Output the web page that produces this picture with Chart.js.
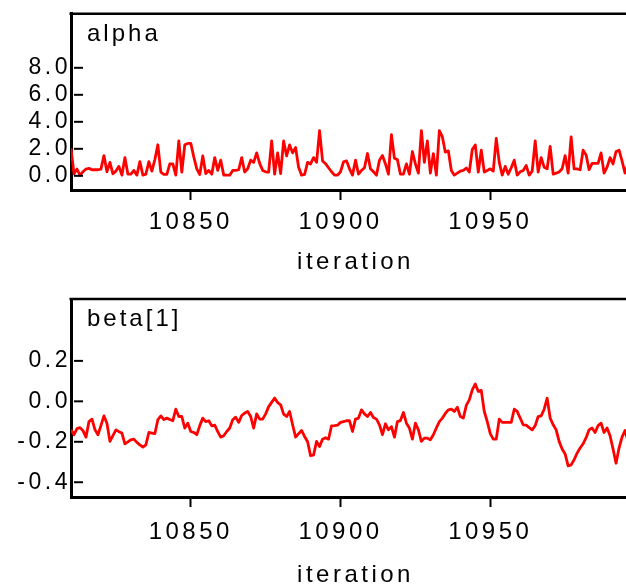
<!DOCTYPE html>
<html>
<head>
<meta charset="utf-8">
<script src="https://cdn.jsdelivr.net/npm/chart.js@4.4.0/dist/chart.umd.min.js"></script>
<style>
  body { margin: 0; background: #fff; overflow: hidden; width: 626px; height: 585px; position: relative; }
  canvas { position: absolute; left: 0; }
  #alphaChart { top: 0; }
  #betaChart { top: 285px; }
</style>
</head>
<body>
<canvas id="alphaChart" width="640" height="280"></canvas>
<canvas id="betaChart" width="640" height="305"></canvas>
<script>
// iteration axis
const firstIteration = 10810;
const lastIteration = 11000;
const xTicks = [10850, 10900, 10950];

// tick labels on the value axes
const alphaTicks = [0, 2, 4, 6, 8];
const betaTicks = [-0.4, -0.2, 0, 0.2];

// sampled values, one per iteration starting at firstIteration
const alphaValues = [
  2.05, 0.15, 0.5, 0.05, 0.3, 0.5, 0.55, 0.45, 0.45, 0.45,
  0.5, 1.5, 0.3, 1.0, 0.15, 0.35, 0.7, 0.05, 1.35, 0.12,
  0.12, 0.4, 0.05, 1.05, 0.05, 0.12, 1.05, 0.35, 1.2, 2.3,
  0.28, 0.1, 0.1, 0.88, 0.88, 0.05, 2.58, 0.28, 2.3, 2.4,
  2.4, 1.4, 0.52, 0.1, 1.47, 0.17, 0.4, 0.12, 1.35, 0.4,
  1.16, 0.05, 0.05, 0.05, 0.4, 0.4, 0.45, 1.35, 0.28, 0.52,
  1.16, 1.0, 1.7, 0.92, 0.4, 0.3, 0.28, 2.58, 0.12, 1.7,
  0.17, 2.58, 1.47, 2.29, 1.7, 2.1, 0.64, 0.05, 0.1, 1.0,
  0.88, 1.35, 1.0, 3.35, 1.1, 0.9, 0.6, 0.3, 0.05, 0.05,
  0.3, 1.04, 1.11, 0.52, 0.05, 1.16, 0.12, 0.4, 0.6, 1.65,
  0.52, 0.3, 0.05, 1.16, 1.5, 0.88, 0.12, 3.05, 1.3, 1.2,
  0.12, 0.12, 0.88, 0.12, 1.8, 0.88, 0.2, 3.35, 1.0, 2.58,
  0.2, 1.65, 0.05, 3.35, 2.9, 1.75, 1.85, 0.4, 0.05, 0.2,
  0.35, 0.4, 0.58, 0.28, 1.95, 2.29, 0.28, 1.9, 0.28, 0.4,
  0.52, 0.35, 2.77, 1.0, 0.05, 0.7, 0.12, 0.6, 1.16, 0.05,
  0.3, 0.4, 0.76, 0.05, 0.35, 2.58, 0.28, 1.35, 0.64, 0.52,
  2.18, 0.12, 0.2, 0.28, 0.52, 1.5, 0.2, 2.88, 0.52, 0.52,
  0.45, 1.9, 1.55, 0.45, 0.92, 0.92, 0.92, 1.7, 0.2, 0.64,
  1.35, 0.88, 1.8, 1.9, 1.11, 0.2, 0.9
];

const betaValues = [
  -0.14, -0.165, -0.135, -0.13, -0.145, -0.177, -0.10, -0.088, -0.14, -0.165,
  -0.12, -0.072, -0.108, -0.198, -0.17, -0.141, -0.15, -0.157, -0.21, -0.2,
  -0.19, -0.187, -0.203, -0.215, -0.226, -0.215, -0.154, -0.157, -0.16, -0.091,
  -0.072, -0.09, -0.083, -0.09, -0.096, -0.039, -0.075, -0.075, -0.132, -0.108,
  -0.149, -0.154, -0.165, -0.12, -0.083, -0.1, -0.096, -0.121, -0.118, -0.15,
  -0.177, -0.17, -0.149, -0.132, -0.091, -0.078, -0.104, -0.07, -0.058, -0.05,
  -0.075, -0.132, -0.062, -0.088, -0.088, -0.062, -0.026, -0.005, 0.016, -0.006,
  -0.017, -0.063, -0.075, -0.05, -0.116, -0.177, -0.16, -0.144, -0.174, -0.2,
  -0.269, -0.265, -0.198, -0.223, -0.187, -0.18, -0.187, -0.121, -0.12, -0.118,
  -0.104, -0.10, -0.096, -0.096, -0.149, -0.088, -0.083, -0.042, -0.062, -0.075,
  -0.055, -0.08, -0.088, -0.116, -0.165, -0.111, -0.141, -0.125, -0.177, -0.10,
  -0.095, -0.055, -0.108, -0.132, -0.187, -0.108, -0.141, -0.198, -0.182, -0.182,
  -0.19, -0.165, -0.132, -0.10, -0.083, -0.06, -0.042, -0.039, -0.05, -0.029,
  -0.075, -0.083, -0.02, 0.007, 0.057, 0.086, 0.049, 0.054, -0.05, -0.1,
  -0.16, -0.187, -0.187, -0.088, -0.104, -0.104, -0.104, -0.104, -0.039, -0.05,
  -0.083, -0.116, -0.118, -0.13, -0.141, -0.12, -0.075, -0.072, -0.039, 0.016,
  -0.083, -0.116, -0.141, -0.198, -0.236, -0.26, -0.319, -0.314, -0.289, -0.256,
  -0.231, -0.21, -0.18, -0.141, -0.132, -0.154, -0.12, -0.108, -0.154, -0.132,
  -0.17, -0.236, -0.306, -0.231, -0.177, -0.144, -0.198
];

Chart.defaults.font.family = '"Liberation Sans", Arial, sans-serif';
Chart.defaults.color = '#000';

// the reference text is drawn wide, so space the letters out
const letterSpacing = {
  id: 'letterSpacing',
  beforeDraw(chart) {
    chart.ctx.letterSpacing = '3.5px';
  }
};

// top edge of the box, inward ticks on the value axis and the node name
const panelFrame = {
  id: 'panelFrame',
  afterDraw(chart, args, opts) {
    const { ctx, chartArea } = chart;
    const y = chart.scales.y;
    ctx.save();
    ctx.strokeStyle = '#000';
    ctx.lineWidth = 2.5;
    ctx.beginPath();
    ctx.moveTo(chartArea.left - 1.5, chartArea.top);
    ctx.lineTo(chartArea.right, chartArea.top);
    ctx.stroke();

    ctx.lineWidth = 2;
    y.ticks.forEach(t => {
      const py = y.getPixelForValue(t.value);
      ctx.beginPath();
      ctx.moveTo(chartArea.left + 3, py);
      ctx.lineTo(chartArea.left + 12, py);
      ctx.stroke();
    });

    ctx.fillStyle = '#000';
    ctx.font = '24px "Liberation Sans", Arial, sans-serif';
    ctx.letterSpacing = '3px';
    ctx.textAlign = 'left';
    ctx.textBaseline = 'alphabetic';
    ctx.fillText(opts.text, chartArea.left + 16, chartArea.top + 27);
    ctx.restore();
  }
};

function makeTrace(canvasId, label, values, yTicks, yMin, yMax, padTop, xHeight, labelPad, titlePad) {
  const points = values.map((v, i) => ({ x: firstIteration + i, y: v }));
  return new Chart(document.getElementById(canvasId), {
    type: 'line',
    data: {
      datasets: [{
        data: points,
        borderColor: 'rgb(255, 0, 0)',
        borderWidth: 2.8,
        borderJoinStyle: 'round',
        pointRadius: 0,
        tension: 0
      }]
    },
    options: {
      responsive: false,
      animation: false,
      layout: { padding: { top: padTop, left: 0, right: 0, bottom: 0 } },
      plugins: {
        legend: { display: false },
        tooltip: { enabled: false },
        panelFrame: { text: label }
      },
      scales: {
        x: {
          type: 'linear',
          min: firstIteration,
          max: lastIteration,
          afterBuildTicks: s => { s.ticks = xTicks.map(v => ({ value: v })); },
          afterFit: s => { s.height = xHeight; },
          ticks: {
            callback: v => String(v),
            font: { size: 24 },
            padding: labelPad,
            maxRotation: 0,
            autoSkip: false
          },
          grid: {
            drawOnChartArea: false,
            drawTicks: true,
            tickLength: 10,
            tickWidth: 2,
            tickColor: '#000'
          },
          border: { display: true, color: '#000', width: 3 },
          title: {
            display: true,
            text: 'iteration',
            font: { size: 24 },
            padding: { top: 0, bottom: titlePad }
          }
        },
        y: {
          min: yMin,
          max: yMax,
          afterBuildTicks: s => { s.ticks = yTicks.map(v => ({ value: v })); },
          afterFit: s => { s.width = 71; },
          ticks: {
            callback: v => Number(v).toFixed(1),
            font: { size: 23 },
            padding: 0
          },
          grid: { display: false, drawTicks: false },
          border: { display: true, color: '#000', width: 3 }
        }
      }
    },
    plugins: [letterSpacing, panelFrame]
  });
}

makeTrace('alphaChart', 'alpha', alphaValues, alphaTicks, -1.05, 12.0, 6, 90, 8, 3);
makeTrace('betaChart', 'beta[1]', betaValues, betaTicks, -0.473, 0.506, 14, 93, 11, 0);
</script>
</body>
</html>
